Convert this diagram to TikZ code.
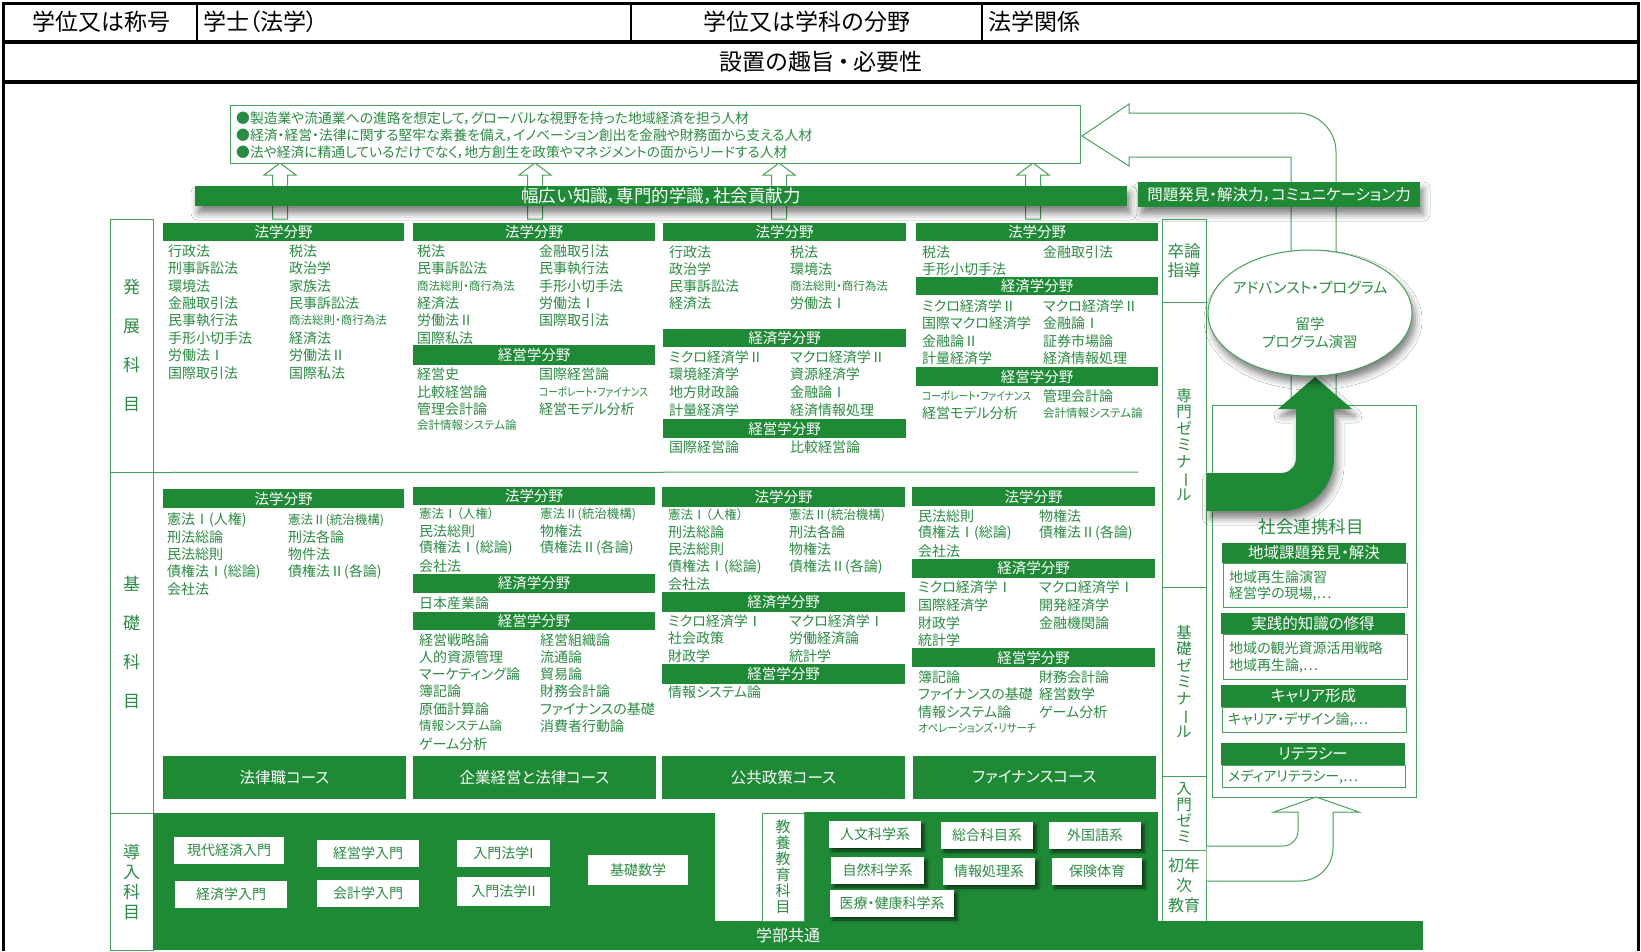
\documentclass[tikz,border=0pt]{standalone}
\usepackage{fontspec}
\setmainfont[RawFeature=+palt]{Noto Sans CJK JP}
\usepackage{graphicx}
\usetikzlibrary{shapes.geometric,shadows.blur}
\definecolor{G}{RGB}{31,138,54}
\definecolor{T}{RGB}{42,140,66}
\definecolor{L}{RGB}{72,160,92}
\newcount\myitc
\newcommand\myfs[1]{\fontsize{#1}{#1}\selectfont}
\newcommand\mybx[7][]{\node[#1, minimum width={(#5-#3)*1pt}, minimum height={(#6-#4)*1pt}] (#2) at ({(#3+#5)/2},{(#4+#6)/2}) {#7};}
\newcommand\myitm[4][item]{\global\advance\myitc by 1\relax\node[#1] (t\the\myitc) at (#2,#3) {#4};}
\newcommand\myvb{\rotatebox[origin=c]{-90}{ー}}
\newcommand\mynar[1]{\scalebox{0.84}[1]{#1}}
\begin{document}
\begin{tikzpicture}[x=1pt,y=-1pt,
  item/.style={anchor=west, inner sep=0pt, text=T, font=\myfs{14}},
  mitem/.style={item, font=\myfs{12.5}},
  sitem/.style={item, font=\myfs{11.5}},
  hdr/.style={fill=G, text=white, inner sep=0pt, font=\myfs{14.5}},
  crs/.style={fill=G, text=white, inner sep=0pt, font=\myfs{15.5}},
  wbox/.style={fill=white, text=T, inner sep=0pt, font=\myfs{14}},
  lbox/.style={draw=L, line width=1pt, inner sep=0pt},
  vtxt/.style={align=center, text=T},
  hollow/.style={draw=L, fill=white, line width=1pt},
  topt/.style={inner sep=0pt, font=\myfs{23}},
  shad/.style={blur shadow={shadow xshift=3pt, shadow yshift=-7pt, shadow blur radius=7pt, shadow opacity=50}},
  shad2/.style={blur shadow={shadow xshift=3pt, shadow yshift=-3pt, shadow blur radius=3pt, shadow opacity=60}},
]
\useasboundingbox (0,0) rectangle (1641,951);
\fill[white] (0,0) rectangle (1641,951);

% ---------- top table ----------
\draw[line width=3pt] (3,951) -- (3,3) -- (1638,3) -- (1638,951);
\draw[line width=3.5pt] (3,42) -- (1638,42);
\draw[line width=3.5pt] (3,82) -- (1638,82);
\draw[line width=2.5pt] (197,3) -- (197,42);
\draw[line width=2.5pt] (631,3) -- (631,42);
\draw[line width=2.5pt] (982,3) -- (982,42);
\node[topt] (c1) at (101,22) {学位又は称号};
\node[topt, anchor=west] (c2) at (203,22) {学士（法学）};
\node[topt] (c3) at (807,22) {学位又は学科の分野};
\node[topt, anchor=west] (c4) at (988,22) {法学関係};
\node[topt] (c5) at (821,62) {設置の趣旨\,・\,必要性};

% ---------- small hollow up arrows ----------
\foreach \c in {280,535,779,1033}{
  \draw[hollow] (\c-7.5,219) -- (\c-7.5,175) -- (\c-16,175) -- (\c,163) -- (\c+16,175) -- (\c+7.5,175) -- (\c+7.5,219) -- cycle;
}

% ---------- big hollow arrow (top right) ----------
\draw[hollow] (1291,405) -- (1291,157) -- (1129,157) -- (1129,166) -- (1082,136) -- (1129,104) -- (1129,113) -- (1297,113) .. controls (1318.5,113) and (1336,130.5) .. (1336,152) -- (1336,405);

% ---------- bullets box ----------
\mybx[lbox, fill=white]{goal}{230}{105}{1080}{163}{}
\node[item, font=\myfs{13.8}] (g1) at (236,118) {●製造業や流通業への進路を想定して，グローバルな視野を持った地域経済を担う人材};
\node[item, font=\myfs{13.8}] (g2) at (236,135) {●経済・経営・法律に関する堅牢な素養を備え，イノベーション創出を金融や財務面から支える人材};
\node[item, font=\myfs{13.8}] (g3) at (236,152) {●法や経済に精通しているだけでなく，地方創生を政策やマネジメントの面からリードする人材};

% ---------- green bars ----------
\mybx[hdr, shad, font=\myfs{17.5}]{bar1}{195}{186}{1127}{206}{幅広い知識，専門的学識，社会貢献力}
\mybx[hdr, shad, font=\myfs{15.5}]{bar2}{1138}{182}{1420}{207}{問題発見・解決力，コミュニケーション力}

% ---------- left column ----------
\mybx[lbox, vtxt, font=\fontsize{17}{39}\selectfont]{hatten}{110}{219}{153}{472}{発\\展\\科\\目}
\mybx[lbox, vtxt, font=\fontsize{17}{39}\selectfont]{kiso}{110}{472}{153}{813}{基\\礎\\科\\目}
\mybx[lbox, vtxt, font=\fontsize{17}{20}\selectfont]{dounyu}{110}{813}{153}{950}{導\\入\\科\\目}
\draw[L, line width=1pt] (hatten.south east) -- (1138,472);

% ---------- seminar column ----------
\mybx[lbox, vtxt, font=\fontsize{16.5}{19}\selectfont]{sotsu}{1162}{219}{1206}{302}{卒論\\指導}
\mybx[lbox, vtxt, font=\fontsize{15.5}{16.5}\selectfont]{senmon}{1162}{302}{1206}{587}{専\\門\\ゼ\\ミ\\ナ\\\myvb\\ル}
\mybx[lbox, vtxt, font=\fontsize{15.5}{16.5}\selectfont]{kisozemi}{1162}{587}{1206}{776}{基\\礎\\ゼ\\ミ\\ナ\\\myvb\\ル}
\mybx[lbox, vtxt, font=\fontsize{15.5}{16}\selectfont]{nyumon}{1162}{776}{1206}{850}{入\\門\\ゼ\\ミ}
\mybx[lbox, vtxt, font=\fontsize{16}{20}\selectfont]{shonen}{1162}{850}{1206}{921}{初年\\次\\教育}

% ---------- 発展 column 1 ----------
\mybx[hdr]{h11}{163}{223}{404}{241}{法学分野}
\myitm{168}{251}{行政法}\myitm{289}{251}{税法}
\myitm{168}{268}{刑事訴訟法}\myitm{289}{268}{政治学}
\myitm{168}{286}{環境法}\myitm{289}{286}{家族法}
\myitm{168}{303}{金融取引法}\myitm{289}{303}{民事訴訟法}
\myitm{168}{320}{民事執行法}\myitm[sitem]{289}{320}{商法総則・商行為法}
\myitm{168}{338}{手形小切手法}\myitm{289}{338}{経済法}
\myitm{168}{355}{労働法Ⅰ}\myitm{289}{355}{労働法Ⅱ}
\myitm{168}{373}{国際取引法}\myitm{289}{373}{国際私法}

% ---------- 発展 column 2 ----------
\mybx[hdr]{h21}{413}{223}{655}{241}{法学分野}
\myitm{417}{251}{税法}\myitm{539}{251}{金融取引法}
\myitm{417}{268}{民事訴訟法}\myitm{539}{268}{民事執行法}
\myitm[sitem]{417}{286}{商法総則・商行為法}\myitm{539}{286}{手形小切手法}
\myitm{417}{303}{経済法}\myitm{539}{303}{労働法Ⅰ}
\myitm{417}{320}{労働法Ⅱ}\myitm{539}{320}{国際取引法}
\myitm{417}{338}{国際私法}
\mybx[hdr]{h22}{413}{345}{655}{365}{経営学分野}
\myitm{417}{374}{経営史}\myitm{539}{374}{国際経営論}
\myitm{417}{392}{比較経営論}\myitm[sitem]{539}{392}{\mynar{コーポレート・ファイナンス}}
\myitm{417}{409}{管理会計論}\myitm{539}{409}{経営モデル分析}
\myitm[sitem]{417}{425}{会計情報システム論}

% ---------- 発展 column 3 ----------
\mybx[hdr]{h31}{663}{223}{906}{241}{法学分野}
\myitm{669}{252}{行政法}\myitm{790}{252}{税法}
\myitm{669}{269}{政治学}\myitm{790}{269}{環境法}
\myitm{669}{286}{民事訴訟法}\myitm[sitem]{790}{286}{商法総則・商行為法}
\myitm{669}{303}{経済法}\myitm{790}{303}{労働法Ⅰ}
\mybx[hdr]{h32}{663}{329}{906}{347}{経済学分野}
\myitm{669}{357}{ミクロ経済学Ⅱ}\myitm{790}{357}{マクロ経済学Ⅱ}
\myitm{669}{374}{環境経済学}\myitm{790}{374}{資源経済学}
\myitm{669}{392}{地方財政論}\myitm{790}{392}{金融論Ⅰ}
\myitm{669}{410}{計量経済学}\myitm{790}{410}{経済情報処理}
\mybx[hdr]{h33}{663}{419}{906}{438}{経営学分野}
\myitm{669}{447}{国際経営論}\myitm{790}{447}{比較経営論}

% ---------- 発展 column 4 ----------
\mybx[hdr]{h41}{916}{223}{1158}{241}{法学分野}
\myitm{922}{252}{税法}\myitm{1043}{252}{金融取引法}
\myitm{922}{269}{手形小切手法}
\mybx[hdr]{h42}{916}{277}{1158}{295}{経済学分野}
\myitm{922}{306}{ミクロ経済学Ⅱ}\myitm{1043}{306}{マクロ経済学Ⅱ}
\myitm{922}{323}{国際マクロ経済学}\myitm{1043}{323}{金融論Ⅰ}
\myitm{922}{341}{金融論Ⅱ}\myitm{1043}{341}{証券市場論}
\myitm{922}{358}{計量経済学}\myitm{1043}{358}{経済情報処理}
\mybx[hdr]{h43}{916}{367}{1158}{386}{経営学分野}
\myitm[sitem]{922}{396}{\mynar{コーポレート・ファイナンス}}\myitm{1043}{396}{管理会計論}
\myitm{922}{413}{経営モデル分析}\myitm[sitem]{1043}{413}{会計情報システム論}

% ---------- 基礎 column 1 ----------
\mybx[hdr]{k11}{163}{489}{404}{508}{法学分野}
\myitm{167}{520}{憲法Ⅰ(人権)}\myitm[mitem]{288}{520}{憲法Ⅱ(統治機構)}
\myitm{167}{537}{刑法総論}\myitm{288}{537}{刑法各論}
\myitm{167}{554}{民法総則}\myitm{288}{554}{物件法}
\myitm{167}{572}{債権法Ⅰ(総論)}\myitm{288}{572}{債権法Ⅱ(各論)}
\myitm{167}{589}{会社法}

% ---------- 基礎 column 2 ----------
\mybx[hdr]{k21}{413}{487}{655}{505}{法学分野}
\myitm[mitem]{419}{514}{憲法Ⅰ（人権）}\myitm[mitem]{540}{514}{憲法Ⅱ(統治機構)}
\myitm{419}{531}{民法総則}\myitm{540}{531}{物権法}
\myitm{419}{548}{債権法Ⅰ(総論)}\myitm{540}{548}{債権法Ⅱ(各論)}
\myitm{419}{566}{会社法}
\mybx[hdr]{k22}{413}{574}{655}{593}{経済学分野}
\myitm{419}{603}{日本産業論}
\mybx[hdr]{k23}{413}{612}{655}{630}{経営学分野}
\myitm{419}{640}{経営戦略論}\myitm{540}{640}{経営組織論}
\myitm{419}{657}{人的資源管理}\myitm{540}{657}{流通論}
\myitm{419}{674}{マーケティング論}\myitm{540}{674}{貿易論}
\myitm{419}{691}{簿記論}\myitm{540}{691}{財務会計論}
\myitm{419}{709}{原価計算論}\myitm{540}{709}{ファイナンスの基礎}
\myitm[mitem]{419}{726}{情報システム論}\myitm{540}{726}{消費者行動論}
\myitm{419}{744}{ゲーム分析}

% ---------- 基礎 column 3 ----------
\mybx[hdr]{k31}{662}{487}{905}{507}{法学分野}
\myitm[mitem]{668}{515}{憲法Ⅰ（人権）}\myitm[mitem]{789}{515}{憲法Ⅱ(統治機構)}
\myitm{668}{532}{刑法総論}\myitm{789}{532}{刑法各論}
\myitm{668}{549}{民法総則}\myitm{789}{549}{物権法}
\myitm{668}{567}{債権法Ⅰ(総論)}\myitm{789}{567}{債権法Ⅱ(各論)}
\myitm{668}{584}{会社法}
\mybx[hdr]{k32}{662}{592}{905}{612}{経済学分野}
\myitm{668}{621}{ミクロ経済学Ⅰ}\myitm{789}{621}{マクロ経済学Ⅰ}
\myitm{668}{638}{社会政策}\myitm{789}{638}{労働経済論}
\myitm{668}{656}{財政学}\myitm{789}{656}{統計学}
\mybx[hdr]{k33}{662}{664}{905}{684}{経営学分野}
\myitm{668}{692}{情報システム論}

% ---------- 基礎 column 4 ----------
\mybx[hdr]{k41}{912}{487}{1155}{506}{法学分野}
\myitm{918}{516}{民法総則}\myitm{1039}{516}{物権法}
\myitm{918}{533}{債権法Ⅰ(総論)}\myitm{1039}{533}{債権法Ⅱ(各論)}
\myitm{918}{551}{会社法}
\mybx[hdr]{k42}{912}{559}{1155}{578}{経済学分野}
\myitm{918}{587}{ミクロ経済学Ⅰ}\myitm{1039}{587}{マクロ経済学Ⅰ}
\myitm{918}{605}{国際経済学}\myitm{1039}{605}{開発経済学}
\myitm{918}{623}{財政学}\myitm{1039}{623}{金融機関論}
\myitm{918}{640}{統計学}
\mybx[hdr]{k43}{912}{648}{1155}{667}{経営学分野}
\myitm{918}{677}{簿記論}\myitm{1039}{677}{財務会計論}
\myitm{918}{694}{ファイナンスの基礎}\myitm{1039}{694}{経営数学}
\myitm{918}{712}{情報システム論}\myitm{1039}{712}{ゲーム分析}
\myitm[sitem]{918}{728}{\scalebox{0.9}[1]{オペレーションズ・リサーチ}}

% ---------- course bars ----------
\mybx[crs]{co1}{163}{756}{406}{799}{法律職コース}
\mybx[crs]{co2}{413}{756}{656}{799}{企業経営と法律コース}
\mybx[crs]{co3}{662}{756}{905}{799}{公共政策コース}
\mybx[crs]{co4}{913}{756}{1156}{799}{ファイナンスコース}

% ---------- bottom: introductory and common ----------
\fill[G] (153,813) rectangle (715,950);
\fill[G] (804,812) rectangle (1158,921);
\mybx[crs, font=\myfs{16}]{gakubu}{153}{921}{1423}{950}{学部共通}
\mybx[wbox]{n1}{174}{837}{284}{864}{現代経済入門}
\mybx[wbox]{n2}{175}{881}{287}{908}{経済学入門}
\mybx[wbox]{n3}{317}{840}{419}{867}{経営学入門}
\mybx[wbox]{n4}{317}{880}{419}{907}{会計学入門}
\mybx[wbox]{n5}{457}{840}{550}{867}{入門法学I}
\mybx[wbox]{n6}{457}{877}{550}{906}{入門法学II}
\mybx[wbox]{n7}{588}{855}{688}{885}{基礎数学}
\mybx[lbox, vtxt, font=\fontsize{15}{16}\selectfont]{kyoyo}{762}{813}{804}{921}{教\\養\\教\\育\\科\\目}
\mybx[wbox, shad2]{e1}{829}{821}{921}{848}{人文科学系}
\mybx[wbox, shad2]{e2}{941}{822}{1033}{849}{総合科目系}
\mybx[wbox, shad2]{e3}{1049}{822}{1141}{849}{外国語系}
\mybx[wbox, shad2]{e4}{831}{857}{924}{884}{自然科学系}
\mybx[wbox, shad2]{e5}{943}{858}{1035}{885}{情報処理系}
\mybx[wbox, shad2]{e6}{1052}{858}{1142}{885}{保険体育}
\mybx[wbox, shad2]{e7}{830}{890}{954}{917}{医療・健康科学系}

% ---------- 社会連携科目 ----------
\mybx[lbox]{shakai}{1212}{405}{1416}{797}{}
\node[text=T, inner sep=0pt, font=\myfs{17.5}] (shtitle) at (1311,527) {社会連携科目};
\mybx[hdr, font=\myfs{15.5}]{s1h}{1222}{543}{1406}{563}{地域課題発見・解決}
\mybx[lbox]{s1b}{1223}{563}{1407}{607}{}
\myitm{1229}{577}{地域再生論演習}
\myitm{1229}{594}{経営学の現場,…}
\mybx[hdr, font=\myfs{15.5}]{s2h}{1221}{613}{1405}{634}{実践的知識の修得}
\mybx[lbox]{s2b}{1223}{634}{1407}{679}{}
\myitm{1229}{648}{地域の観光資源活用戦略}
\myitm{1229}{666}{地域再生論,…}
\mybx[hdr, font=\myfs{15.5}]{s3h}{1221}{685}{1406}{707}{キャリア形成}
\mybx[lbox]{s3b}{1222}{707}{1406}{732}{}
\myitm{1228}{720}{キャリア・デザイン論,…}
\mybx[hdr, font=\myfs{15.5}]{s4h}{1221}{743}{1405}{765}{リテラシー}
\mybx[lbox]{s4b}{1222}{765}{1405}{787}{}
\myitm{1228}{777}{メディアリテラシー,…}

% ---------- bottom-right hollow arrow ----------
\draw[hollow] (nyumon.east |- 0,846) -- (1283,846) .. controls (1291.3,846) and (1298,839.3) .. (1298,831) -- (1298,812) -- (1274,812) -- (1316,797) -- (1359,812) -- (1333,812) -- (1333,848) .. controls (1333,866.2) and (1318.2,881) .. (1300,881) -- (shonen.east |- 0,881);

% ---------- big green arrow ----------
\fill[G, shad] (senmon.east |- 0,473) -- (1281,473) .. controls (1289.3,473) and (1296,466.7) .. (1296,458) -- (1296,409) -- (1278,409) -- (1315,377) -- (1352,409) -- (1334,409) -- (1334,458) .. controls (1334,487.3) and (1310.3,511) .. (1281,511) -- (senmon.east |- 0,511) -- cycle;

% ---------- advanced program ellipse ----------
\node[ellipse, draw=L, line width=1pt, fill=white, minimum width=204pt, minimum height=126pt, inner sep=0pt, shad] (adv) at (1310,313) {};
\node[text=T, inner sep=0pt, font=\myfs{15}] (adv1) at (1310,288) {アドバンスト・プログラム};
\node[text=T, inner sep=0pt, font=\myfs{14.5}] (adv2) at (1310,324) {留学};
\node[text=T, inner sep=0pt, font=\myfs{14.5}] (adv3) at (1310,342) {プログラム演習};
\end{tikzpicture}
\end{document}
